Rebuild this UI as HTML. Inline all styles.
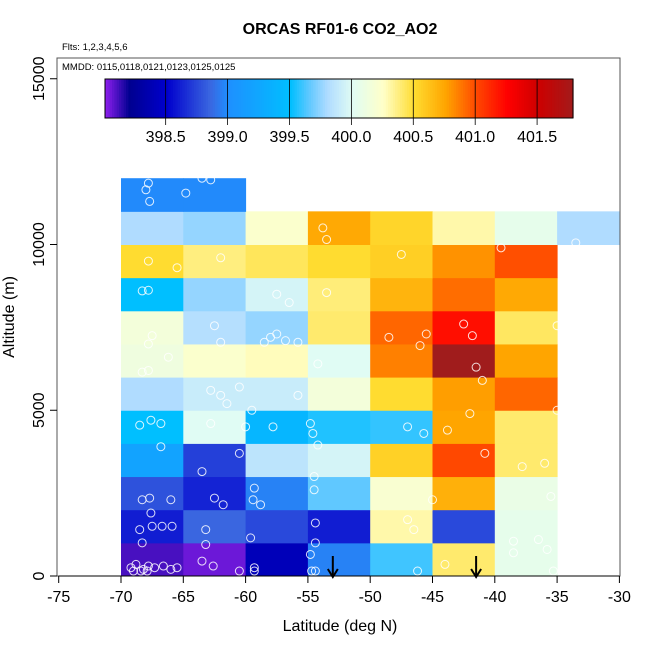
<!DOCTYPE html>
<html><head><meta charset="utf-8">
<style>
body{margin:0;background:#fff;}
svg text{font-family:"Liberation Sans",sans-serif;}
</style></head>
<body>
<svg id="chart" width="650" height="650" xmlns="http://www.w3.org/2000/svg">
<rect width="650" height="650" fill="#fff"/>
<g id="cells"></g>
<g id="pts"></g>
<g id="axes"></g>
</svg>
<script>
const latBins = [-70,-65,-60,-55,-50,-45,-40,-35];
const altBins = [0,1000,2000,3000,4000,5000,6000,7000,8000,9000,10000,11000];
const cellValues = [
 [398.1,398.05,398.4,398.95,399.6,400.4,400.05,null],
 [398.6,398.85,398.75,398.6,400.3,398.75,400.05,null],
 [398.78,398.62,398.95,399.65,400.2,400.7,400.08,null],
 [399.2,398.72,399.85,399.95,400.55,401.0,400.4,null],
 [399.5,400.0,399.4,399.55,399.58,400.75,400.4,null],
 [399.8,399.9,399.9,400.15,400.5,400.77,400.92,null],
 [400.12,400.22,400.27,400.0,400.85,401.8,400.75,null],
 [400.15,399.82,399.75,400.4,400.92,401.2,400.42,null],
 [399.5,399.75,399.95,400.38,400.68,400.9,400.73,null],
 [400.5,400.37,400.43,400.5,400.56,400.8,400.98,null],
 [399.8,399.75,400.22,400.73,400.53,400.3,400.05,399.8],
 [398.98,398.98,null,null,null,null,null,null]
];
const pointLat = [-67.8,-68,-67.7,-64.8,-63.5,-62.8,-53.8,-53.5,-33.5,-67.8,-65.5,-62,-47.5,-39.5,-68.3,-67.8,-57.5,-56.5,-53.5,-67.5,-67.8,-62.5,-62,-57.5,-58,-58.5,-56.8,-55.8,-48.5,-45.5,-46,-42.5,-41.8,-35,-66.2,-68.3,-67.8,-54.2,-41.5,-62.8,-62,-60.5,-61.5,-55.8,-59.5,-41,-67.6,-68.5,-66.8,-62.8,-60,-57.8,-54.8,-54.6,-47,-45.7,-43.8,-42,-35,-66.8,-60.5,-63.5,-54.2,-40.8,-37.8,-36,-68.3,-67.7,-66,-62.5,-61.8,-59.3,-59.4,-58.8,-54.5,-54.5,-45,-35.5,-68.5,-68.3,-67.5,-66.7,-65.9,-67.6,-63.2,-59.6,-54.4,-54.4,-47,-46.5,-38.5,-36.5,-69.2,-68.8,-68.2,-67.8,-67.3,-66.6,-66,-65.5,-69,-68.4,-67.9,-63.2,-63.5,-62.6,-60.5,-59.3,-59.3,-54.8,-54.7,-54.4,-46.2,-44,-38.5,-35.8,-35.3];
const pointAlt = [11850,11650,11300,11550,12000,11950,10500,10150,10050,9500,9300,9600,9700,9900,8600,8620,8500,8250,8550,7250,7000,7550,7050,7300,7200,7050,7100,7050,7200,7300,6950,7600,7250,7550,6600,6150,6200,6400,6300,5600,5450,5700,5200,5450,5000,5900,4700,4550,4600,4600,4500,4500,4600,4300,4500,4300,4400,4900,5000,3900,3700,3150,3950,3700,3300,3400,2300,2350,2300,2350,2150,2650,2300,2150,2600,3000,2300,2400,1400,1000,1500,1500,1500,1900,1400,1150,1600,1000,1700,1400,1050,1100,250,350,200,300,250,300,200,250,150,150,150,950,450,300,150,250,150,650,150,150,150,350,700,800,150];
const arrowLat = [-53, -41.5];
const xTicks = [-75,-70,-65,-60,-55,-50,-45,-40,-35,-30];
const yTicks = [0,5000,10000,15000];
const cbTicks = [398.5,399.0,399.5,400.0,400.5,401.0,401.5];
const cbRange = [398.01, 401.79];

const stops=[[398.0,"#9020f0"],[398.2,"#000090"],[398.5,"#0000cd"],[398.85,"#3a66e0"],[399.0,"#1e90ff"],[399.5,"#00bfff"],[399.65,"#60c8ff"],[399.8,"#b0dcff"],[400.0,"#e0fcf4"],[400.25,"#ffffc8"],[400.5,"#ffdc30"],[400.75,"#ffa500"],[401.0,"#ff4800"],[401.25,"#ff0000"],[401.5,"#cd0000"],[401.8,"#a01c1c"]];
function hex(c){return [1,3,5].map(i=>parseInt(c.substr(i,2),16));}
function cmap(v){
  if(v<=stops[0][0])return stops[0][1];
  for(let i=1;i<stops.length;i++){
    if(v<=stops[i][0]){const a=hex(stops[i-1][1]),b=hex(stops[i][1]);const t=(v-stops[i-1][0])/(stops[i][0]-stops[i-1][0]);
      return "rgb("+a.map((x,k)=>Math.round(x+(b[k]-x)*t)).join(",")+")";}
  }
  return stops[stops.length-1][1];
}
const X=v=>121+(v+70)*12.46;
const Y=v=>576-v*0.03315;
const CB=v=>105+(v-cbRange[0])/(cbRange[1]-cbRange[0])*468;
const NS="http://www.w3.org/2000/svg";
function mk(tag,attrs,parent,text){const e=document.createElementNS(NS,tag);for(const k in attrs)e.setAttribute(k,attrs[k]);if(text!==undefined)e.textContent=text;parent.appendChild(e);return e;}
const cells=document.getElementById('cells'),pts=document.getElementById('pts'),axes=document.getElementById('axes');
cellValues.forEach((row,r)=>row.forEach((v,c)=>{
  if(v===null)return;
  const el=mk('rect',{x:X(-70+c*5),y:Y(altBins[r]+1000),width:X(-65+c*5)-X(-70+c*5)+0.5,height:Y(altBins[r])-Y(altBins[r]+1000)+0.5,fill:cmap(v)},cells);
  
  
}));
pointLat.forEach((la,i)=>{
  const el=mk('circle',{cx:X(la),cy:Y(pointAlt[i]),r:4,fill:'none',stroke:'#fff','stroke-opacity':0.85,'stroke-width':1},pts);
  
  
});
arrowLat.forEach(la=>{
  const g=mk('g',{},pts);
  
  
  mk('line',{x1:X(la),y1:556,x2:X(la),y2:577,stroke:'#000','stroke-width':2},g);
  mk('polyline',{points:(X(la)-5)+',569 '+X(la)+',577 '+(X(la)+5)+',569',fill:'none',stroke:'#000','stroke-width':2},g);
});
const N=200;
for(let i=0;i<N;i++){
  const v=cbRange[0]+(cbRange[1]-cbRange[0])*i/N;
  const el=mk('rect',{x:CB(v),y:79,width:468/N+0.6,height:39,fill:cmap(v)},axes);
  
  
}
const cbb=mk('rect',{x:105,y:79,width:468,height:39,fill:'none',stroke:'#000','stroke-width':1},axes);


cbTicks.forEach(t=>{
  mk('line',{x1:CB(t),y1:79,x2:CB(t),y2:125,stroke:'#000','stroke-width':0.8},axes);
  const el=mk('text',{x:CB(t),y:142,'font-size':16,'text-anchor':'middle'},axes,t.toFixed(1));
  
  
});
const box=mk('rect',{x:57,y:58,width:563,height:518,fill:'none',stroke:'#555','stroke-width':1},axes);


mk('line',{x1:X(-75),y1:576,x2:X(-30),y2:576,stroke:'#000','stroke-width':1},axes);
xTicks.forEach(t=>{
  mk('line',{x1:X(t),y1:576,x2:X(t),y2:583,stroke:'#000'},axes);
  const el=mk('text',{x:X(t),y:602,'font-size':16,'text-anchor':'middle'},axes,String(t));
  
  
});
yTicks.forEach(t=>{
  mk('line',{x1:50,y1:Y(t),x2:57,y2:Y(t),stroke:'#000'},axes);
  const el=mk('text',{x:0,y:0,'font-size':16,'text-anchor':'middle',transform:'translate(44,'+Y(t)+') rotate(-90)'},axes,String(t));
  
  
});
</script>
<svg style="position:absolute;left:0;top:0" width="650" height="650" xmlns="http://www.w3.org/2000/svg">
<text x="340" y="34" font-size="16" font-weight="bold" text-anchor="middle" font-family="Liberation Sans, sans-serif">ORCAS RF01-6 CO2_AO2</text>
<text x="62" y="50" font-size="9.5" font-family="Liberation Sans, sans-serif">Flts: 1,2,3,4,5,6</text>
<text x="62" y="70" font-size="9.5" font-family="Liberation Sans, sans-serif">MMDD: 0115,0118,0121,0123,0125,0125</text>
<text x="340" y="631" font-size="16" text-anchor="middle" font-family="Liberation Sans, sans-serif">Latitude (deg N)</text>
<text transform="translate(14,317) rotate(-90)" font-size="16" text-anchor="middle" font-family="Liberation Sans, sans-serif">Altitude (m)</text>
</svg>
</body></html>
